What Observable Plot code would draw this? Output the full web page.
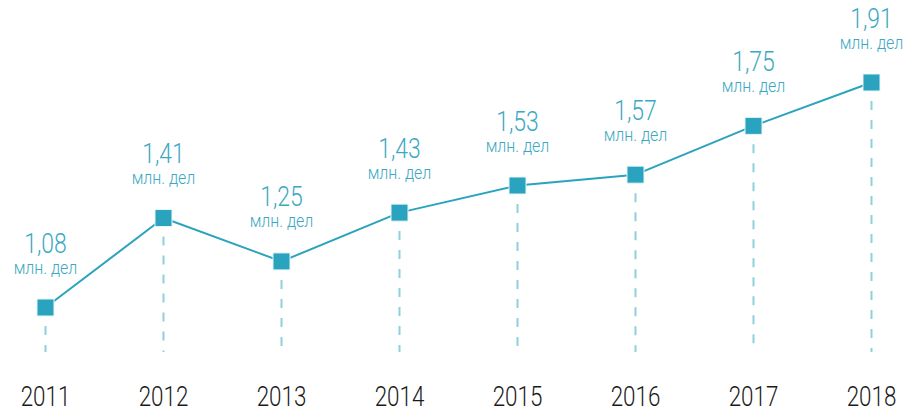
<!DOCTYPE html>
<html>
<head>
<meta charset="utf-8">
<script src="https://cdn.jsdelivr.net/npm/d3@7"></script>
<script src="https://cdn.jsdelivr.net/npm/@observablehq/plot@0.6"></script>
<style>
  html, body { margin: 0; padding: 0; background: #fff; }
  #chart svg { display: block; }
</style>
</head>
<body>
<div id="chart"></div>
<script>
const years = ["2011", "2012", "2013", "2014", "2015", "2016", "2017", "2018"];
const values = [1.08, 1.41, 1.25, 1.43, 1.53, 1.57, 1.75, 1.91];
const valueLabels = ["1,08", "1,41", "1,25", "1,43", "1,53", "1,57", "1,75", "1,91"];
const unitLabel = "млн. дел";
const baseValue = 0.914;

const data = years.map((y, i) => ({year: y, value: values[i], label: valueLabels[i]}));

const FONT = "Roboto, 'DejaVu Sans Condensed', sans-serif";
const LINE = "#2aa3be";
const TEXT = "#3ba9c2";
const DASH = "#8ed0dd";

const chart = Plot.plot({
  width: 907,
  height: 412,
  marginTop: 0,
  marginBottom: 26,
  marginLeft: 0,
  marginRight: 0,
  style: {fontFamily: FONT, background: "#fff"},
  x: {type: "point", domain: years, range: [45, 871], padding: 0},
  y: {domain: [1.08, 1.91], range: [307, 82], axis: null},
  marks: [
    Plot.ruleX(data, {x: "year", y1: "value", y2: () => baseValue, stroke: DASH, strokeWidth: 2, strokeDasharray: "9,10"}),
    Plot.line(data, {x: "year", y: "value", stroke: LINE, strokeWidth: 2}),
    Plot.dot(data, {x: "year", y: "value", symbol: "square", r: 9.6, fill: LINE, stroke: "#e8f5f8", strokeWidth: 1, strokeLinejoin: "round"}),
    Plot.text(data, {x: "year", y: "value", text: "label", dy: -55, lineAnchor: "bottom", fill: TEXT, fontSize: 28, fontWeight: 300, fontFamily: FONT, className: "cond-num"}),
    Plot.text(data, {x: "year", y: "value", text: () => unitLabel, dy: -34, lineAnchor: "bottom", fill: TEXT, fontSize: 19, fontWeight: 300, fontFamily: FONT, className: "cond-unit"}),
    Plot.axisX({tickSize: 0, tickPadding: 0, fontSize: 28, fontWeight: 300, fill: "#1a1a1a", fontFamily: FONT, label: null, className: "cond-year"}),
  ]
});
// horizontally condense the text to mimic the narrow typeface of the reference
const condense = (cls, k) => {
  chart.querySelectorAll(`.${cls} text`).forEach(t => {
    const tr = t.getAttribute("transform") || "";
    t.setAttribute("transform", `${tr} scale(${k},1)`);
  });
};
condense("cond-num", 0.82);
condense("cond-unit", 0.84);
condense("cond-year", 0.8);
document.getElementById("chart").appendChild(chart);
</script>
</body>
</html>
